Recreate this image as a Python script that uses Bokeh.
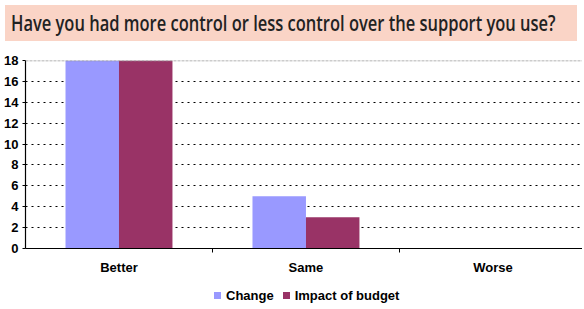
from bokeh.plotting import figure
from bokeh.models import Range1d, FixedTicker, Span, Div, ColumnDataSource
from bokeh.layouts import column
from bokeh.embed import file_html
from bokeh.resources import INLINE

categories = ["Better", "Same", "Worse"]
change = [18, 5, 0]
impact = [18, 3, 0]
series_names = ["Change", "Impact of budget"]
y_ticks = [0, 2, 4, 6, 8, 10, 12, 14, 16, 18]
title_text = "Have you had more control or less control over the support you use?"

BLUE = "#9999FF"
PURPLE = "#993366"
FONT = "Liberation Sans"

centers = [i + 0.5 for i in range(len(categories))]
bw = 0.286
src = ColumnDataSource(dict(
    xc=[c - bw / 2 for c in centers],
    xi=[c + bw / 2 for c in centers],
    change=change, impact=impact))

p = figure(width=582, height=232, output_backend="svg", toolbar_location=None,
           x_range=Range1d(0, 2.979), y_range=Range1d(0, 18),
           min_border_left=25, min_border_right=0, min_border_top=14,
           min_border_bottom=30)
p.outline_line_color = None
p.background_fill_color = "white"

p.vbar(x="xc", top="change", width=bw, source=src, fill_color=BLUE,
       line_color=None)
p.vbar(x="xi", top="impact", width=bw, source=src, fill_color=PURPLE,
       line_color=None)

# grid
p.xgrid.visible = False
p.ygrid.ticker = FixedTicker(ticks=y_ticks[1:-1])
p.ygrid.grid_line_color = "black"
p.ygrid.grid_line_dash = "2 4"
p.ygrid.grid_line_width = 1
p.add_layout(Span(location=y_ticks[-1], dimension="width", line_color="#999999",
                  line_dash="3 1", line_width=1.5))

# y axis
ya = p.yaxis[0]
ya.ticker = FixedTicker(ticks=y_ticks)
ya.major_tick_out = 3
ya.major_tick_in = 0
ya.minor_tick_out = 0
ya.axis_line_color = "black"
ya.axis_line_width = 1.2
ya.major_label_text_font = FONT
ya.major_label_text_font_style = "bold"
ya.major_label_text_font_size = "13px"
ya.major_label_text_color = "black"
ya.major_label_standoff = 4

# x axis
xa = p.xaxis[0]
xa.ticker = FixedTicker(ticks=centers, minor_ticks=[1, 2])
xa.major_label_overrides = {c: n for c, n in zip(centers, categories)}
xa.major_tick_out = 0
xa.major_tick_in = 0
xa.minor_tick_out = 4
xa.minor_tick_in = 0
xa.minor_tick_line_color = "black"
xa.axis_line_color = "black"
xa.axis_line_width = 1.2
xa.major_label_text_font = FONT
xa.major_label_text_font_style = "bold"
xa.major_label_text_font_size = "13px"
xa.major_label_text_color = "black"
xa.major_label_standoff = 7

# legend (HTML, below the plot)
def swatch(color, name, gap):
    return ('<span style="display:inline-block;width:7px;height:7px;'
            f'background:{color};margin-right:5px;vertical-align:middle;'
            'position:relative;top:-1px;"></span>'
            f'<span style="margin-right:{gap}px;">{name}</span>')

legend_html = ('<div style="padding-left:209px;padding-top:5px;white-space:nowrap;'
               f'font-family:\'{FONT}\',Arial,sans-serif;font-weight:bold;'
               'font-size:13px;line-height:15px;color:#000;">'
               + swatch(BLUE, series_names[0], 9)
               + swatch(PURPLE, series_names[1], 0)
               + '</div>')
legend = Div(text=legend_html, width=572, height=24)

title = Div(text=('<div style="background:#FAD4C6;width:572px;height:36px;'
                  'box-sizing:border-box;padding-left:6px;line-height:36px;'
                  'overflow:hidden;white-space:nowrap;">'
                  '<span style="display:inline-block;transform:scaleX(0.785);'
                  'transform-origin:left center;font-family:\'Open Sans\',sans-serif;'
                  'font-weight:600;font-size:21px;color:#222;">'
                  + title_text + '</span></div>'),
            width=572, height=36)

layout = column(title, p, legend, spacing=0)

open("out.html", "w").write(file_html(layout, INLINE))
